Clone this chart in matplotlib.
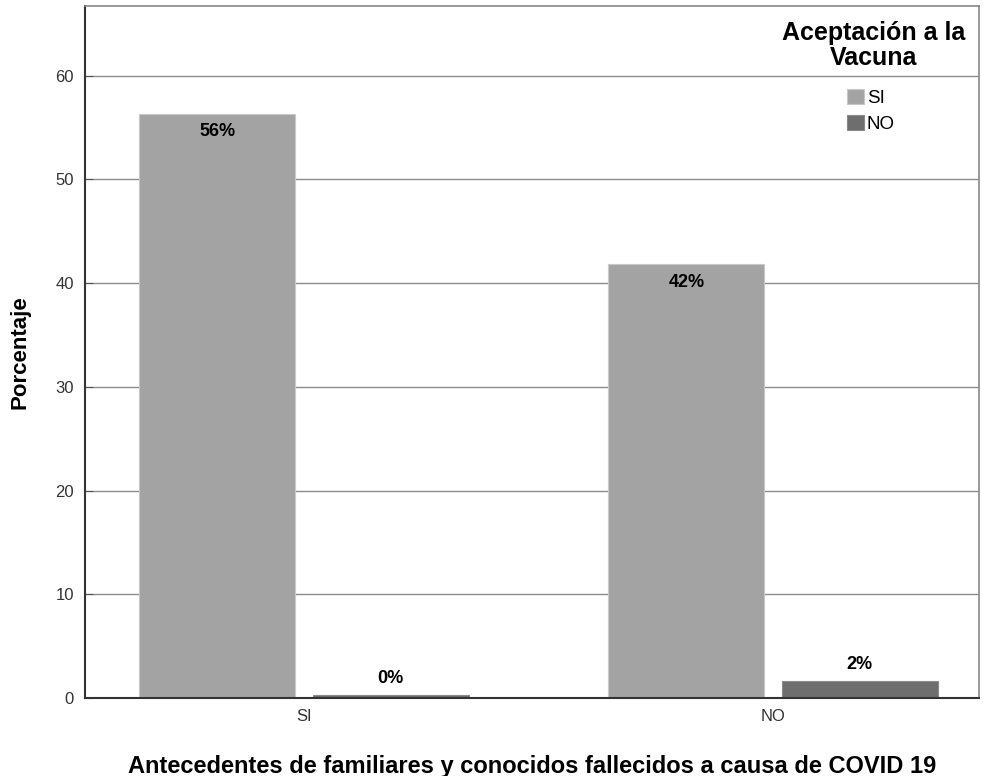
import matplotlib
matplotlib.use('Agg')
import matplotlib.pyplot as plt
import numpy as np

plt.rcParams['font.family'] = ['Liberation Sans', 'DejaVu Sans']

categories = ['SI', 'NO']
series_names = ['SI', 'NO']
si_values = [56.3, 41.8]
no_values = [0.3, 1.6]
si_labels = ['56%', '42%']
no_labels = ['0%', '2%']
colors = ['#a3a3a3', '#6e6e6e']

fig = plt.figure(figsize=(9.83, 7.76), dpi=100)
ax = fig.add_axes([85/983, 78/776, (979-85)/983, (770-78)/776])

x = np.arange(len(categories))
w = 0.333
off = 0.185

for v in [10, 20, 30, 40, 50, 60]:
    ax.axhline(v, color='#8c8c8c', lw=1, zorder=0)

b1 = ax.bar(x - off, si_values, w, color=colors[0], edgecolor='#c8c8c8', lw=0.8, label=series_names[0], zorder=2)
b2 = ax.bar(x + off, no_values, w, color=colors[1], edgecolor='#8a8a8a', lw=0.8, label=series_names[1], zorder=2)

for xi, v, t in zip(x - off, si_values, si_labels):
    ax.text(xi, v - 0.9, t, ha='center', va='top', fontsize=13, fontweight='bold')
for xi, v, t in zip(x + off, no_values, no_labels):
    ax.text(xi, v + 0.8, t, ha='center', va='bottom', fontsize=13, fontweight='bold')

ax.set_xlim(-0.467, 1.439)
ax.set_ylim(0, 66.7)
ax.set_yticks([0, 10, 20, 30, 40, 50, 60])
ax.set_xticks(x)
ax.set_xticklabels(categories)
ax.tick_params(axis='both', labelsize=12, colors='#333333', length=0, pad=8)
ax.tick_params(axis='y', length=6, direction='in', color='#555555')

for s in ['left', 'bottom']:
    ax.spines[s].set_color('#333333')
    ax.spines[s].set_linewidth(1.5)
for s in ['top', 'right']:
    ax.spines[s].set_color('#888888')
    ax.spines[s].set_linewidth(1.2)

ax.set_ylabel('Porcentaje', fontsize=16, fontweight='bold', labelpad=18)
ax.set_xlabel('Antecedentes de familiares y conocidos fallecidos a causa de COVID 19',
              fontsize=17, fontweight='bold', labelpad=22)

ax.text(0.882, 0.979, 'Aceptación a la\nVacuna', transform=ax.transAxes, ha='center', va='top',
        fontsize=18, fontweight='bold', linespacing=1.1)
leg = ax.legend(loc='upper center', bbox_to_anchor=(0.879, 0.894),
                frameon=False, fontsize=13.5, handlelength=0.9,
                handleheight=0.9, handletextpad=0.15, labelspacing=0.41, borderpad=0)

fig.savefig('out.png', dpi=100)
